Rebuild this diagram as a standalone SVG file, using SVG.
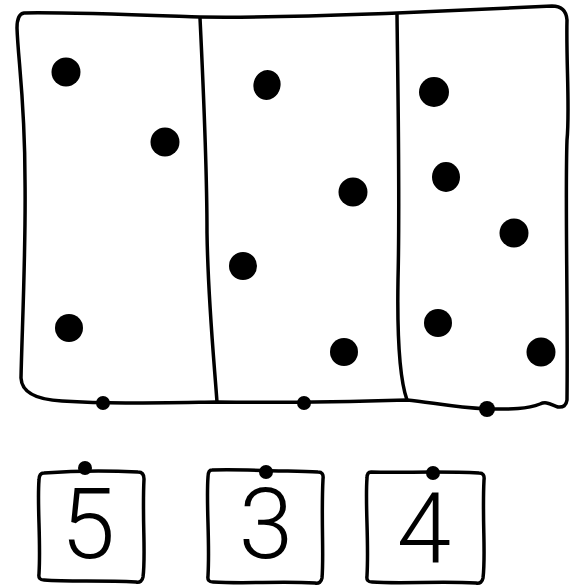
<svg xmlns="http://www.w3.org/2000/svg" width="570" height="587" viewBox="0 0 570 587">
<style>
.ln{fill:none;stroke:#000;stroke-width:3.5;stroke-linecap:round;stroke-linejoin:round}
.dot{fill:#000}
.num{font-family:Roboto,"Liberation Sans",sans-serif;font-weight:300;font-size:98px;fill:#000;text-anchor:middle}
</style>
<rect width="570" height="587" fill="#fff"/>
<g id="board">
<path class="ln" d="M24,13 C60,12 140,15 200,17 C280,18 340,15 397,13 C460,10 520,7 552,6 Q566,6 567,20 C566,60 570,110 567,140 C565,200 568,300 567,400 Q566,408 558,407 C550,404 546,401 540,404 C525,410 505,409 487,409 C450,407 430,402 407,400 C340,402 280,403 217,402 C150,403 110,404 62,401 Q22,399 21,378 C22,330 26,250 25,180 C25,100 18,60 17,28 Q17,14 24,13 Z"/>
<path class="ln" d="M200,18 C204,100 207,180 207,233 C208,300 214,360 217,402"/>
<path class="ln" d="M397,14 C398,100 400,200 398,280 C397,340 400,380 407,400"/>
</g>
<g id="col1">
<circle class="dot" cx="66" cy="72" r="14.5"/>
<circle class="dot" cx="165" cy="142" r="14.5"/>
<circle class="dot" cx="69" cy="328" r="14"/>
<circle class="dot" cx="103" cy="403" r="7"/>
</g>
<g id="col2">
<ellipse class="dot" cx="267" cy="85" rx="13.5" ry="15" transform="rotate(15 267 85)"/>
<circle class="dot" cx="353" cy="192" r="14.5"/>
<circle class="dot" cx="243" cy="266" r="14"/>
<circle class="dot" cx="344" cy="352" r="14"/>
<circle class="dot" cx="304" cy="403" r="7"/>
</g>
<g id="col3">
<circle class="dot" cx="434" cy="92" r="15"/>
<ellipse class="dot" cx="446" cy="177" rx="14" ry="15"/>
<circle class="dot" cx="514" cy="233" r="14.5"/>
<circle class="dot" cx="438" cy="323" r="14"/>
<circle class="dot" cx="541" cy="352" r="14.5"/>
<circle class="dot" cx="487" cy="409" r="8"/>
</g>
<g id="card5">
<path class="ln" d="M44,473 C70,471 100,470 138,472 Q144,472 144,479 C142,520 146,555 143,577 Q142,583 136,582 C100,580 70,582 44,580 Q38,580 39,574 C41,540 37,505 39,480 Q39,473 44,473 Z"/>
<circle class="dot" cx="85" cy="468" r="7"/>
<text class="num" x="88" y="558">5</text>
</g>
<g id="card3">
<path class="ln" d="M212,470 C240,469 280,471 318,472 Q324,472 323,479 C321,520 324,555 322,578 Q321,584 315,583 C280,581 245,584 213,582 Q207,582 208,576 C210,540 206,505 208,477 Q208,470 212,470 Z"/>
<circle class="dot" cx="266" cy="472" r="7"/>
<text class="num" x="266" y="558">3</text>
</g>
<g id="card4">
<path class="ln" d="M371,472 C400,473 440,471 479,473 Q485,473 484,480 C482,520 486,555 483,578 Q482,584 476,583 C440,581 400,584 372,582 Q366,582 367,576 C369,540 365,505 367,478 Q367,472 371,472 Z"/>
<circle class="dot" cx="433" cy="473" r="7"/>
<text class="num" x="424" y="563">4</text>
</g>
</svg>
